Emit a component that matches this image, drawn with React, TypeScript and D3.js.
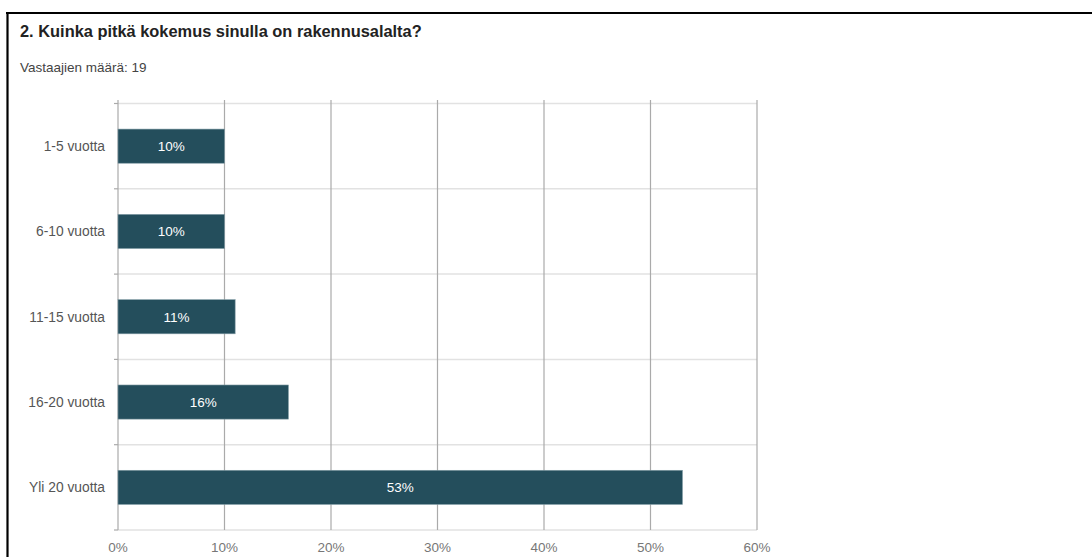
import React from "react";
import * as d3 from "d3";

const categories: string[] = ["1-5 vuotta", "6-10 vuotta", "11-15 vuotta", "16-20 vuotta", "Yli 20 vuotta"];
const values: number[] = [10, 10, 11, 16, 53];
const barLabels: string[] = ["10%", "10%", "11%", "16%", "53%"];
const xTicks: number[] = [0, 10, 20, 30, 40, 50, 60];
const title = "2. Kuinka pitkä kokemus sinulla on rakennusalalta?";
const subtitle = "Vastaajien määrä: 19";

export default function App() {
  const W = 1092, H = 557;
  const left = 118, right = 757, top = 103.5, bottom = 530;
  const x = d3.scaleLinear().domain([0, 60]).range([left, right]);
  const y = d3.scaleBand<string>().domain(categories).range([top, bottom]).paddingInner(0).paddingOuter(0);
  const bw = y.bandwidth();
  const barH = bw * 0.4;
  const font = "'Liberation Sans', Arial, sans-serif";
  const boundaries = d3.range(categories.length + 1).map((i) => top + i * bw);

  return (
    <svg width={W} height={H} style={{ position: "absolute", left: 0, top: 0, background: "#fff" }} fontFamily={font}>
      <rect x={0} y={0} width={W} height={H} fill="#fff" />
      <line x1={6} x2={W} y1={13} y2={13} stroke="#000" strokeWidth={2.2} />
      <line x1={7.5} x2={7.5} y1={12} y2={H} stroke="#000" strokeWidth={2.2} />
      <text x={20} y={37} fontSize={16.4} fontWeight="bold" fill="#222">{title}</text>
      <text x={20} y={72} fontSize={13.5} fill="#444">{subtitle}</text>

      {boundaries.map((b, i) => (
        <g key={"h" + i}>
          <line x1={left} x2={right} y1={b} y2={b} stroke="#e2e2e2" strokeWidth={1.5} />
          <line x1={left - 4} x2={left} y1={b} y2={b} stroke="#aaa" strokeWidth={1.2} />
        </g>
      ))}
      {xTicks.map((t) => (
        <g key={"v" + t}>
          <line x1={x(t)} x2={x(t)} y1={top - 3.5} y2={bottom} stroke="#aaa" strokeWidth={1.2} />
          <text x={x(t)} y={552} fontSize={13.5} fill="#777" textAnchor="middle">{t + "%"}</text>
        </g>
      ))}

      {categories.map((c, i) => {
        const cy = (y(c) as number) + bw / 2;
        return (
          <g key={c}>
            <text x={105} y={cy + 5} fontSize={13.8} fill="#555" textAnchor="end">{c}</text>
            <rect x={x(0)} y={cy - barH / 2} width={x(values[i]) - x(0)} height={barH} fill="#244e5c" stroke="#7f9aa3" strokeWidth={0.6} />
            <text x={(x(0) + x(values[i])) / 2} y={cy + 5} fontSize={13.5} fill="#fff" textAnchor="middle">{barLabels[i]}</text>
          </g>
        );
      })}
    </svg>
  );
}
